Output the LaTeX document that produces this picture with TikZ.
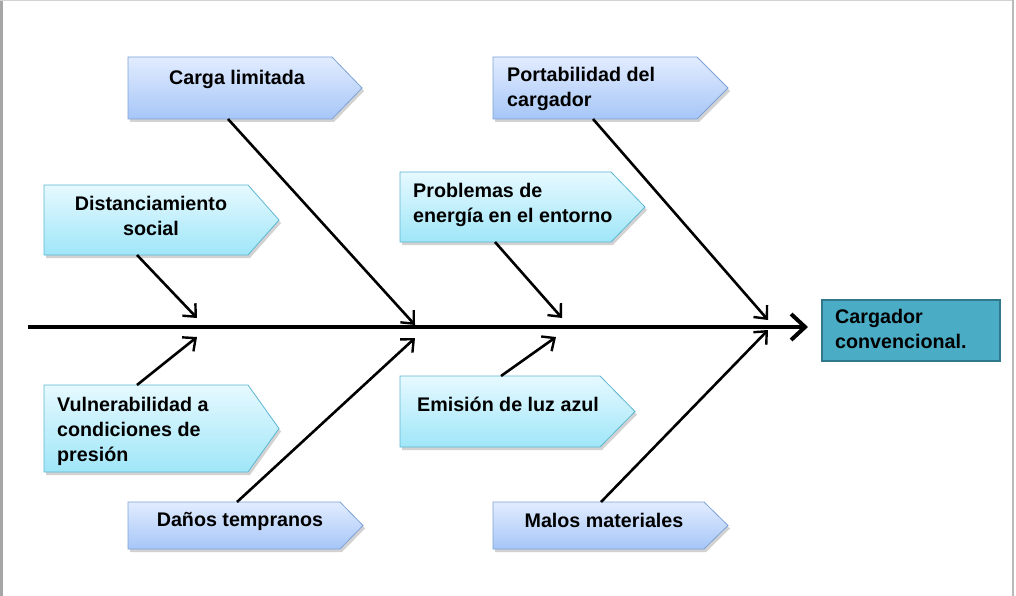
\documentclass[tikz,border=0pt]{standalone}
\usepackage{fontspec}
\setmainfont{Liberation Sans}
\usetikzlibrary{arrows.meta,shadows}
\definecolor{bluetop}{HTML}{E2ECFF}
\definecolor{bluebot}{HTML}{A6C6F7}
\definecolor{blueedge}{HTML}{7EA2D6}
\definecolor{cyantop}{HTML}{E6F9FF}
\definecolor{cyanbot}{HTML}{9FE6F8}
\definecolor{cyanedge}{HTML}{5DB7D2}
\definecolor{headfill}{HTML}{4BACC6}
\definecolor{headedge}{HTML}{31788C}
\tikzset{
  bluebox/.style={draw=blueedge, line width=0.8pt, top color=bluetop, bottom color=bluebot,
    drop shadow={shadow xshift=2pt, shadow yshift=-3pt, opacity=0.35}},
  cyanbox/.style={draw=cyanedge, line width=0.8pt, top color=cyantop, bottom color=cyanbot,
    drop shadow={shadow xshift=2pt, shadow yshift=-3pt, opacity=0.35}},
  lbl/.style={font=\fontsize{19.7}{25}\selectfont\bfseries, inner sep=0pt, align=#1},
  lbl/.default=center,
  bone/.style={line width=2.6pt, -{Straight Barb[length=10pt,width=18pt,line width=2.4pt]}},
  spine/.style={line width=4.5pt, -{Straight Barb[length=14pt,width=26pt,line width=4pt]}},
}
% \fishbox{style}{x1}{y1}{xs}{xt}{y2}
\newcommand\fishbox[6]{%
  \path[#1] (#2,#3) -- (#4,#3) -- (#5,{(#3+#6)/2}) -- (#4,#6) -- (#2,#6) -- cycle;}
\begin{document}
\begin{tikzpicture}[x=1pt,y=-1pt]
\useasboundingbox (0,0) rectangle (1016,596);
\fill[white] (0,0) rectangle (1016,596);
% frame
\fill[gray!70] (0,0) rectangle (3,596);
\fill[gray!35] (0,0) rectangle (1013,1.5);
\fill[gray!55] (1012,0) rectangle (1013.5,596);

% boxes
\fishbox{bluebox}{128}{57}{332}{362}{119}
\fishbox{bluebox}{493}{57}{697}{728}{119}
\fishbox{cyanbox}{44}{185}{248}{279}{255}
\fishbox{cyanbox}{400}{172}{611}{645}{242}
\fishbox{cyanbox}{44}{385}{248}{279}{472}
\fishbox{cyanbox}{400}{376}{600}{635}{447}
\fishbox{bluebox}{128}{502}{340}{363}{549}
\fishbox{bluebox}{493}{502}{704}{728}{549}

% effect box
\node[draw=headedge, line width=2pt, fill=headfill, minimum width=178pt, minimum height=61pt,
  anchor=north west, inner sep=0pt] (eff) at (821,299) {};
\node[lbl=left, anchor=west] (efft) at (835,329) {Cargador\\convencional.};

% labels
\node[lbl] (t1) at (237,79) {Carga limitada};
\node[lbl=left, anchor=west] (t2) at (507,88.5) {Portabilidad del\\cargador};
\node[lbl] (t3) at (151,216) {Distanciamiento\\social};
\node[lbl=left, anchor=west] (t4) at (413,204.5) {Problemas de\\energía en el entorno};
\node[lbl=left, anchor=west] (t5) at (57,431) {Vulnerabilidad a\\condiciones de\\presión};
\node[lbl] (t6) at (508,404) {Emisión de luz azul};
\node[lbl] (t7) at (240,521) {Daños tempranos};
\node[lbl] (t8) at (604,520) {Malos materiales};

% connector endpoints
\coordinate (s0) at (28,327);
\coordinate (s1) at (808,327);
\coordinate (a1) at (228,119); \coordinate (e1) at (415,325);
\coordinate (a2) at (593,119); \coordinate (e2) at (768,320);
\coordinate (a3) at (137,255); \coordinate (e3) at (197,318);
\coordinate (a4) at (495,242); \coordinate (e4) at (562,318);
\coordinate (a5) at (137,385); \coordinate (e5) at (197,337);
\coordinate (a6) at (501,376); \coordinate (e6) at (556,337);
\coordinate (a7) at (237,502); \coordinate (e7) at (415,338);
\coordinate (a8) at (601,502); \coordinate (e8) at (768,330);

\draw[spine] (s0) -- (s1);
\foreach \i in {1,...,8} \draw[bone] (a\i) -- (e\i);
\end{tikzpicture}
\end{document}
